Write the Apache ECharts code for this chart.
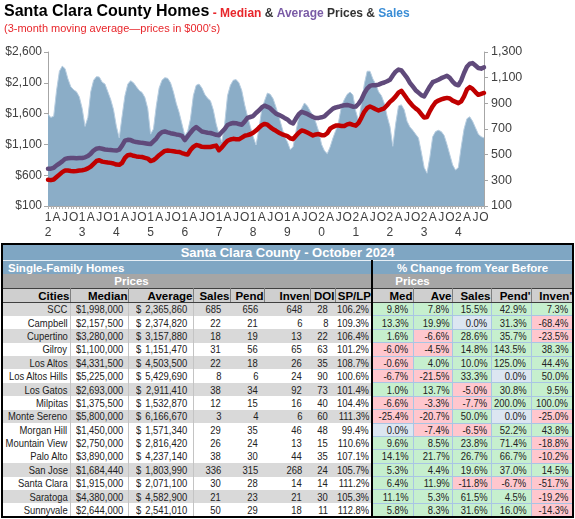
<!DOCTYPE html>
<html>
<head>
<meta charset="utf-8">
<script src="https://cdn.jsdelivr.net/npm/echarts@6/dist/echarts.min.js"></script>
<style>
  html, body { margin: 0; padding: 0; background: #fff; }
  body { width: 575px; height: 519px; position: relative; overflow: hidden;
         font-family: 'Liberation Sans', Arial, sans-serif; }
  #chart { position: absolute; left: 0; top: 0; width: 575px; height: 243px; }
  #tbl { position: absolute; left: 1px; top: 243px; width: 572px;
         border-collapse: collapse; table-layout: fixed; border: 2px solid #000; }
  #tbl td { padding: 0; overflow: hidden; white-space: nowrap; vertical-align: middle; }
  tr.r0 td { height: 15px; background: #7fa6c3; color: #fff; font: bold 13px 'Liberation Sans', Arial, sans-serif;
             text-align: center; border-bottom: 1px solid #e6eef5; }
  tr.r1 td { height: 13px; background: #7fa6c3; color: #fff; }
  tr.r1 .lab { height: 13px; overflow: hidden; line-height: 13px; padding-top: 1px; box-sizing: border-box;
               font: bold 11.5px/13px 'Liberation Sans', Arial, sans-serif; }
  tr.r2 td { height: 14px; background: #a6a6a6; color: #fff; text-align: center;
             font: bold 11.5px 'Liberation Sans', Arial, sans-serif; }
  tr.r3 td { height: 13px; background: #cfcfcf; color: #000; text-align: right; padding-right: 2px;
             font: bold 11.5px 'Liberation Sans', Arial, sans-serif;
             border: 1px solid #7f7f7f; border-top: 1px solid #404040; border-bottom: 1px solid #404040; }
  tr.d td { height: 12.4px; font-size: 11.5px; color: #222; }
  tr.d.g td.l { background: #d9d9d9; }
  tr.d td.bl { border-right: 1px solid #c4c4c4; }
  .w { position: relative; height: 12px; }
  .n, .cur { position: absolute; top: 0; line-height: 12px; display: inline-block; white-space: nowrap;
             transform: scaleX(0.82); }
  .n { transform-origin: 100% 50%; }
  .cur { transform-origin: 0 50%; left: 5px; }
  td.city { color: #2d62b3; }
  td.pc { border: 1px solid #a9c5e4; }
  td.pos { background: #c6efce; color: #1f7a1f; }
  td.neg { background: #ffc7ce; color: #c8202c; }
  td.zer { background: #dce6f1; color: #1f7a1f; }
  td.div { border-left: 2px solid #000 !important; }
</style>
</head>
<body>
<div id="chart"></div>
<table id="tbl"></table>
<script>
// ---- chart data (3-month moving averages, prices in $000's) ----
const years = [2012, 2013, 2014, 2015, 2016, 2017, 2018, 2019, 2020, 2021, 2022, 2023, 2024];
const lastMonth2024 = 10; // October
const monthTicks = ['', '', '', 'A', '', '', 'J', '', '', 'O', '', '']; // January shows the year

const medianPrice = [
  525, 520, 530, 570, 610, 650, 675, 675, 668, 664, 668, 675,
  680, 690, 710, 740, 785, 830, 842, 820, 812, 805, 800, 790,
  772, 768, 800, 880, 925, 932, 915, 905, 898, 895, 882, 870,
  830, 845, 880, 925, 960, 995, 1000, 995, 988, 982, 978, 960,
  945, 935, 1010, 1060, 1090, 1080, 1060, 1057, 1057, 1058, 1070, 1080,
  1005, 1050, 1110, 1160, 1180, 1190, 1185, 1182, 1210, 1240, 1250, 1265,
  1290, 1325, 1370, 1410, 1433, 1420, 1380, 1345, 1320, 1290, 1268, 1250,
  1234, 1200, 1185, 1240, 1290, 1326, 1315, 1292, 1270, 1245, 1262, 1268,
  1250, 1248, 1282, 1355, 1385, 1405, 1408, 1400, 1400, 1425, 1435, 1418,
  1405, 1450, 1535, 1630, 1690, 1715, 1695, 1670, 1650, 1668, 1686, 1735,
  1790, 1830, 1880, 1940, 1971, 1905, 1840, 1780, 1725, 1685, 1650, 1590,
  1535, 1545, 1640, 1720, 1785, 1812, 1830, 1845, 1855, 1845, 1810, 1790,
  1770, 1800, 1880, 1990, 2030, 2000, 1950, 1905, 1920, 1935
];

const averagePrice = [
  705, 705, 720, 760, 790, 825, 865, 875, 880, 878, 875, 878,
  880, 890, 912, 950, 1000, 1030, 1040, 1030, 1018, 1012, 1008, 1003,
  1000, 1015, 1080, 1160, 1175, 1170, 1150, 1138, 1132, 1125, 1120, 1112,
  1105, 1150, 1195, 1260, 1300, 1310, 1295, 1282, 1272, 1262, 1255, 1240,
  1170, 1230, 1290, 1345, 1380, 1345, 1310, 1300, 1290, 1285, 1270, 1255,
  1250, 1300, 1350, 1415, 1435, 1449, 1445, 1430, 1420, 1470, 1530, 1545,
  1560, 1610, 1650, 1700, 1729, 1710, 1686, 1640, 1600, 1580, 1557, 1530,
  1505, 1460, 1440, 1520, 1590, 1630, 1612, 1595, 1570, 1545, 1528, 1530,
  1540, 1555, 1600, 1640, 1680, 1700, 1710, 1725, 1735, 1740, 1730, 1712,
  1715, 1760, 1830, 1930, 2005, 2050, 2062, 2060, 2070, 2090, 2105, 2125,
  2150, 2220, 2280, 2315, 2300, 2240, 2180, 2100, 2040, 1980, 1940, 1900,
  1880, 1960, 2040, 2110, 2130, 2150, 2175, 2195, 2215, 2180, 2120, 2075,
  2060, 2140, 2260, 2360, 2410, 2420, 2380, 2340, 2330, 2350
];

const salesCount = [
  815, 790, 800, 1000, 1150, 1190, 1170, 1090, 1030, 1005, 990, 950,
  860, 720, 790, 990, 1080, 1108, 1105, 1065, 1050, 990, 930, 850,
  720, 630, 800, 960, 1050, 1076, 1060, 1030, 1000, 985, 945, 860,
  660, 700, 880, 1020, 1080, 1100, 1095, 1060, 990, 900, 830, 740,
  650, 680, 780, 960, 1040, 1050, 1020, 970, 940, 920, 850, 740,
  660, 600, 740, 960, 1040, 1080, 1085, 1060, 1000, 890, 800, 720,
  640, 575, 700, 850, 920, 980, 970, 935, 870, 800, 720, 640,
  600, 540, 560, 680, 790, 860, 903, 880, 840, 805, 750, 680,
  580, 530, 508, 560, 630, 690, 760, 880, 930, 970, 988, 965,
  840, 760, 900, 1050, 1150, 1150, 1090, 1050, 990, 960, 900, 800,
  720, 565, 740, 880, 888, 850, 760, 715, 690, 660, 630, 520,
  400, 355, 480, 640, 680, 690, 680, 650, 580, 500, 420, 380,
  400, 560, 700, 780, 795, 760, 710, 660, 640, 630
];

const leftTicks = { min: 100, max: 2600, step: 500 };
const rightTicks = { min: 100, max: 1300, step: 200 };

// ---- table data (October 2024) ----
const tableTitle = 'Santa Clara County - October 2024';
const cities = ['SCC', 'Campbell', 'Cupertino', 'Gilroy', 'Los Altos', 'Los Altos Hills', 'Los Gatos', 'Milpitas',
  'Monte Sereno', 'Morgan Hill', 'Mountain View', 'Palo Alto', 'San Jose', 'Santa Clara', 'Saratoga', 'Sunnyvale'];
const medianSold = [1998000, 2157500, 3280000, 1100000, 4331500, 5225000, 2693000, 1375500,
  5800000, 1450000, 2750000, 3890000, 1684440, 1915000, 4380000, 2644000];
const averageSold = [2365860, 2374820, 3157880, 1151470, 4503500, 5429690, 2911410, 1532870,
  6166670, 1571340, 2816420, 4237140, 1803990, 2071100, 4582900, 2541010];
const sales = [685, 22, 18, 31, 22, 8, 38, 12, 3, 29, 26, 38, 336, 30, 21, 50];
const pend = [656, 21, 19, 56, 18, 6, 34, 15, 4, 35, 24, 30, 315, 28, 23, 29];
const inven = [648, 6, 13, 65, 26, 24, 92, 16, 6, 46, 13, 44, 268, 14, 21, 18];
const doi = [28, 8, 22, 63, 35, 90, 73, 40, 60, 48, 15, 35, 24, 14, 30, 11];
const spLp = [106.2, 109.3, 106.4, 101.2, 108.7, 100.6, 101.4, 104.4, 111.3, 99.4, 110.6, 107.1, 105.7, 111.2, 105.3, 112.8];
const chgMed = [9.8, 13.3, 1.6, -6.0, -0.6, -6.7, 1.0, -6.6, -25.4, 0.0, 9.6, 14.1, 5.3, 6.4, 11.1, 5.8];
const chgAve = [7.8, 19.9, -6.6, -4.5, 4.0, -21.5, 13.7, -3.3, -20.7, -7.4, 8.5, 21.7, 4.4, 11.9, 5.3, 8.3];
const chgSales = [15.5, 0.0, 28.6, 14.8, 10.0, 33.3, -5.0, -7.7, 50.0, -6.5, 23.8, 26.7, 19.6, -11.8, 61.5, 31.6];
const chgPend = [42.9, 31.3, 35.7, 143.5, 125.0, 0.0, 30.8, 200.0, 0.0, 52.2, 71.4, 66.7, 37.0, -6.7, 4.5, 16.0];
const chgInven = [7.3, -68.4, -23.5, 38.3, 44.4, 50.0, 9.5, 100.0, -25.0, 43.8, -18.8, -10.2, 14.5, -51.7, -19.2, -14.3];
const shadedRow = [1, 0, 1, 0, 1, 0, 1, 0, 1, 0, 0, 0, 1, 0, 1, 0];
const headers = ['Cities', 'Median', 'Average', 'Sales', 'Pend', 'Inven', 'DOI', 'SP/LP', 'Med', 'Ave', 'Sales', "Pend'", "Inven'"];

// ---- chart ----
const months = [];
years.forEach(y => {
  for (let m = 1; m <= 12; m++) {
    if (y === 2024 && m > lastMonth2024) break;
    months.push(y + '-' + String(m).padStart(2, '0'));
  }
});

const FONT = "'Liberation Sans', Arial, sans-serif";
const chart = echarts.init(document.getElementById('chart'), null, { renderer: 'canvas' });
chart.setOption({
  animation: false,
  textStyle: { fontFamily: FONT },
  title: [
    {
      left: 4, top: 3, padding: 0,
      text: '{a|Santa Clara County Homes}{r| - Median}{k| & }{p|Average}{k| Prices & }{b|Sales}',
      textStyle: {
        rich: {
          a: { fontFamily: FONT, fontSize: 16, fontWeight: 'bold', color: '#000', lineHeight: 17, verticalAlign: 'bottom' },
          r: { fontFamily: FONT, fontSize: 12, color: '#e8262b', lineHeight: 14, verticalAlign: 'bottom' },
          k: { fontFamily: FONT, fontSize: 12, color: '#333', lineHeight: 14, verticalAlign: 'bottom' },
          p: { fontFamily: FONT, fontSize: 12, color: '#7a5ba6', lineHeight: 14, verticalAlign: 'bottom' },
          b: { fontFamily: FONT, fontSize: 12, color: '#3a8dd6', lineHeight: 14, verticalAlign: 'bottom' }
        }
      }
    },
    {
      left: 4, top: 23, padding: 0,
      text: "(3-month moving average\u2014prices in $000's)",
      textStyle: { fontFamily: FONT, fontSize: 11, fontWeight: 'normal', color: '#e8262b' }
    }
  ],
  grid: { left: 48, right: 91, top: 52, bottom: 37, outerBoundsMode: 'none' },
  xAxis: {
    type: 'category',
    data: months,
    boundaryGap: false,
    axisLine: { lineStyle: { color: '#a6a6a6', width: 1 } },
    axisTick: { show: true, interval: 0, length: 3, lineStyle: { color: '#b0b0b0' } },
    axisLabel: {
      interval: 0, margin: 4, fontSize: 12, lineHeight: 15, color: '#404040', fontFamily: FONT,
      formatter: v => {
        const y = v.slice(2, 4), m = parseInt(v.slice(5, 7), 10);
        return m === 1 ? y[0] + '\n' + y[1] : monthTicks[m - 1];
      }
    },
    splitLine: { show: false }
  },
  yAxis: [
    {
      type: 'value', position: 'left',
      min: leftTicks.min, max: leftTicks.max, interval: leftTicks.step,
      axisLine: { show: true, lineStyle: { color: '#a6a6a6' } },
      axisTick: { show: true, length: 4, lineStyle: { color: '#a6a6a6' } },
      axisLabel: { fontSize: 12, color: '#404040', margin: 6, fontFamily: FONT,
        formatter: v => '$' + v.toLocaleString('en-US') },
      splitLine: { show: false }
    },
    {
      type: 'value', position: 'right',
      min: rightTicks.min, max: rightTicks.max, interval: rightTicks.step,
      axisLine: { show: true, lineStyle: { color: '#a6a6a6' } },
      axisTick: { show: true, length: 4, lineStyle: { color: '#a6a6a6' } },
      axisLabel: { fontSize: 12.5, color: '#404040', margin: 7, fontFamily: FONT,
        formatter: v => v.toLocaleString('en-US') },
      splitLine: { show: false }
    }
  ],
  series: [
    {
      name: 'Sales', type: 'line', yAxisIndex: 1, data: salesCount,
      symbol: 'none', smooth: false,
      lineStyle: { width: 1, color: '#b7cde0' },
      areaStyle: { color: '#8badc7', opacity: 1, origin: 'start' },
      z: 1
    },
    {
      name: 'Median', type: 'line', yAxisIndex: 0, data: medianPrice,
      symbol: 'none', lineStyle: { width: 4.5, color: '#c00000', join: 'round', cap: 'round' }, z: 3
    },
    {
      name: 'Average', type: 'line', yAxisIndex: 0, data: averagePrice,
      symbol: 'none', lineStyle: { width: 4.5, color: '#604a7b', join: 'round', cap: 'round' }, z: 3
    }
  ]
});

// ---- table ----
const colWidths = [68, 58, 65, 37, 34, 46, 25, 37, 41, 39, 39, 40, 42];
const padRight = [2, 4, 5, 9, 6, 8, 7, 2, 4, 2, 3, 4, 4];
const money = v => v.toLocaleString('en-US');
const pct = v => v.toFixed(1) + '%';
const num = (txt, pr) => `<div class="w"><span class="n" style="right:${pr}px">${txt}</span></div>`;

let html = '<colgroup>' + colWidths.map(w => `<col style="width:${w}px">`).join('') + '</colgroup>';
html += `<tr class="r0"><td colspan="13">${tableTitle}</td></tr>`;
html += '<tr class="r1"><td colspan="8"><div class="lab" style="padding-left:5px">Single-Family Homes</div></td>' +
        '<td colspan="5" class="div"><div class="lab" style="text-align:center">% Change from Year Before</div></td></tr>';
html += '<tr class="r2"><td></td><td colspan="2">Prices</td><td colspan="5"></td>' +
        '<td colspan="2" class="div">Prices</td><td colspan="3"></td></tr>';
html += '<tr class="r3">' + headers.map((h, i) => `<td${i === 8 ? ' class="div"' : ''}>${h}</td>`).join('') + '</tr>';

cities.forEach((c, r) => {
  let row = `<tr class="d${shadedRow[r] ? ' g' : ''}">`;
  row += `<td class="l city bl">${num(c, padRight[0])}</td>`;
  row += `<td class="l bl"><div class="w"><span class="cur">$</span><span class="n" style="right:${padRight[1]}px">${money(medianSold[r])}</span></div></td>`;
  row += `<td class="l bl"><div class="w"><span class="cur" style="left:7px">$</span><span class="n" style="right:${padRight[2]}px">${money(averageSold[r])}</span></div></td>`;
  [sales, pend, inven, doi].forEach((arr, k) => {
    row += `<td class="l">${num(arr[r], padRight[3 + k])}</td>`;
  });
  row += `<td class="l">${num(pct(spLp[r]), padRight[7])}</td>`;
  [chgMed, chgAve, chgSales, chgPend, chgInven].forEach((arr, k) => {
    const v = arr[r];
    const cls = v > 0 ? 'pos' : (v < 0 ? 'neg' : 'zer');
    row += `<td class="pc ${cls}${k === 0 ? ' div' : ''}">${num(pct(v), padRight[8 + k])}</td>`;
  });
  row += '</tr>';
  html += row;
});
document.getElementById('tbl').innerHTML = html;
</script>
</body>
</html>
